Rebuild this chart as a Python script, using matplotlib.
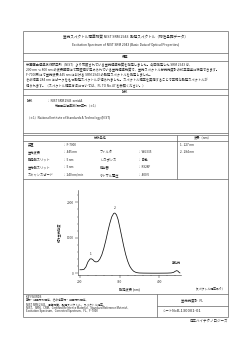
import matplotlib
matplotlib.use("Agg")
import matplotlib.pyplot as plt
from matplotlib.ticker import MultipleLocator

plt.rcParams['font.family'] = ['Noto Sans CJK JP', 'DejaVu Sans']

# ---- data ----
wavelength = [200, 205, 210, 215, 220, 225, 228, 232, 236, 240, 245, 250, 255,
              260, 265, 270, 275, 280, 285, 288, 292, 296, 300, 305, 310, 315,
              320, 325, 330, 335, 340, 345, 350, 360, 380, 400, 420, 430, 436,
              440, 444, 447, 450, 452]
intensity = [100, 100, 110, 180, 320, 400, 410, 390, 340, 320, 330, 400, 520,
             700, 920, 1170, 1400, 1590, 1690, 1700, 1650, 1520, 1320, 1050,
             780, 540, 350, 210, 120, 60, 30, 15, 8, 5, 3, 3, 5, 10, 25,
             55, 75, 60, 25, 10]
peak_labels = ["1", "2"]
peak_wl = [228, 288]
peak_val = [410, 1700]
peak_text = ["1.  227 nm", "2.  284 nm"]
y_ticks = [0, 1000, 2000]
x_ticks = [200, 300, 400]

W, H = 250, 353
fig = plt.figure(figsize=(W / 100, H / 100), dpi=100)
fig.patch.set_facecolor("white")

bg = fig.add_axes([0, 0, 1, 1])
bg.set_xlim(0, W)
bg.set_ylim(H, 0)
bg.axis("off")

lc = "#555555"
lw = 0.45
L, R = 23, 228

def hline(y, x0=L, x1=R, c=lc, w=lw):
    bg.plot([x0, x1], [y, y], color=c, lw=w, solid_capstyle="butt")

def vline(x, y0, y1, c=lc, w=lw):
    bg.plot([x, x], [y0, y1], color=c, lw=w, solid_capstyle="butt")

# frame lines
for y in [30.5, 52.5, 60.5, 88.5, 95, 133, 135, 141, 179, 294, 317]:
    hline(y)
vline(L, 30.5, 317)
vline(R, 30.5, 317)
vline(177, 135, 179)
vline(157, 294, 317)
hline(306, 157, R)

tc = "#222222"
fs = 2.4

def txt(x, y, s, size=fs, ha="left", **kw):
    bg.text(x, y, s, fontsize=size, ha=ha, va="center", color=tc, **kw)

txt(125.5, 37, "蛍光スペクトル標準物質 NIST SRM 2943  励起スペクトル（物性基礎データ）", 2.6, "center")
txt(125.5, 45, "Excitation Spectrum of NIST SRM 2943 (Basic Data of Optical Properties)", 2.3, "center")
txt(125.5, 56.7, "概要", 2.3, "center")

para = [
    "米国国立標準技術研究所（NIST）より市販されている蛍光標準物質を測定しました。今回測定した SRM 2943 は、",
    "200 nm ～ 800 nm の波長範囲にて認証値が定められている蛍光標準物質で、蛍光スペクトル分光光度計の校正用途に使用できます。",
    "F-7000形にて蛍光波長 445 nm における SRM 2943 の励起スペクトルを測定しました。",
    "その結果 284 nm にピークをもつ励起スペクトルが得られました。スペクトル補正を実施することで正確な励起スペクトルが",
    "得られます。（スペクトル補正方法については、FL TO No.47 を参照ください。）",
]
for i, s in enumerate(para):
    txt(25.5, 65.3 + i * 5.05, s, 2.3)

txt(125.5, 91.7, "試料", 2.3, "center")
txt(27, 100.7, "試料", 2.3)
txt(47, 100.7, "： NIST SRM 2943 :serialA", 2.2)
txt(55, 106, "米国国立標準技術研究所（＊1）", 2.2)
txt(27, 118.5, "（＊1）National Institute of Standards & Technology (NIST)", 2.2)

txt(100, 138, "分析条件", 2.3, "center")
txt(202.5, 138, "波長（nm）", 2.3, "center")

rows_y = [144.7, 152.2, 159.7, 167.2, 174.7]
col1 = ["装置", "蛍光波長", "励起側スリット", "蛍光側スリット", "スキャンスピード"]
val1 = ["： F-7000", "： 445 nm", "： 5 nm", "： 5 nm", "： 240 nm/min"]
col2 = ["", "フィルタ", "レスポンス", "検出器", "ホトマル電圧"]
val2 = ["", "： WG335", "： 自動", "： R928F", "： 400 V"]
for y, a, b, c, d in zip(rows_y, col1, val1, col2, val2):
    txt(28, y, a, 2.3)
    txt(63, y, b, 2.2)
    txt(100, y, c, 2.3)
    txt(138, y, d, 2.2)
for y, s in zip(rows_y[:2], peak_text):
    txt(180, y, s, 2.2)

txt(226, 289.5, "（スペクトル補正あり）", 2.1, "right")

kw = ["KEY WORDS",
      "素材・加工材料関係、その他素材・加工材料関係、",
      "NIST SRM 2943、標準物質、励起スペクトル、スペクトル補正、",
      "NIST、SRM、CRM、Certified Reference Material、Standard Reference Material、",
      "Excitation Spectrum、Corrected Spectrum、FL、F-7000"]
for i, s in enumerate(kw):
    txt(26, 297.3 + i * 3.35, s, 2.0)
txt(192.5, 300.5, "蛍光光度計  FL", 2.4, "center")
txt(163, 311.3, "シートNo.", 2.4)
txt(177, 311.3, "FL130001-01", 3.0)
txt(228, 320.5, "日立ハイテクノロジーズ", 2.5, "right")

# ---- spectrum chart ----
x0, x1 = 196, 455
y0, y1 = -60, 2350
px_l, px_r = 78.4, 181.1
px_b, px_t = 275.4, 190.0
ax = fig.add_axes([px_l / W, 1 - px_b / H, (px_r - px_l) / W, (px_b - px_t) / H])
ax.set_facecolor("none")
ax.plot(wavelength, intensity, color="#111111", lw=0.55)
ax.set_xlim(x0, x1)
ax.set_ylim(y0, y1)
for s in ["top", "right"]:
    ax.spines[s].set_visible(False)
for s in ["left", "bottom"]:
    ax.spines[s].set_linewidth(0.4)
    ax.spines[s].set_color("#333333")
ax.set_xticks(x_ticks)
ax.set_yticks(y_ticks)
ax.xaxis.set_minor_locator(MultipleLocator(20))
ax.yaxis.set_minor_locator(MultipleLocator(200))
ax.tick_params(which="major", length=2.0, width=0.35, labelsize=2.3, pad=1.2, colors="#333333")
ax.tick_params(which="minor", length=1.0, width=0.3, colors="#333333")
for lab, xw, yv in zip(peak_labels, peak_wl, peak_val):
    ax.text(xw, yv + 90, lab, fontsize=2.3, ha="center", va="bottom", color=tc)
ax.text(444, 230, "散乱光", fontsize=2.2, ha="center", va="bottom", color=tc)
ax.set_xlabel("励起波長 (nm)", fontsize=2.3, labelpad=2.2, color=tc)
ax.set_ylabel("相対蛍光強度", fontsize=2.3, labelpad=3.5, color=tc)

fig.savefig("out.png", dpi=100, facecolor="white")
